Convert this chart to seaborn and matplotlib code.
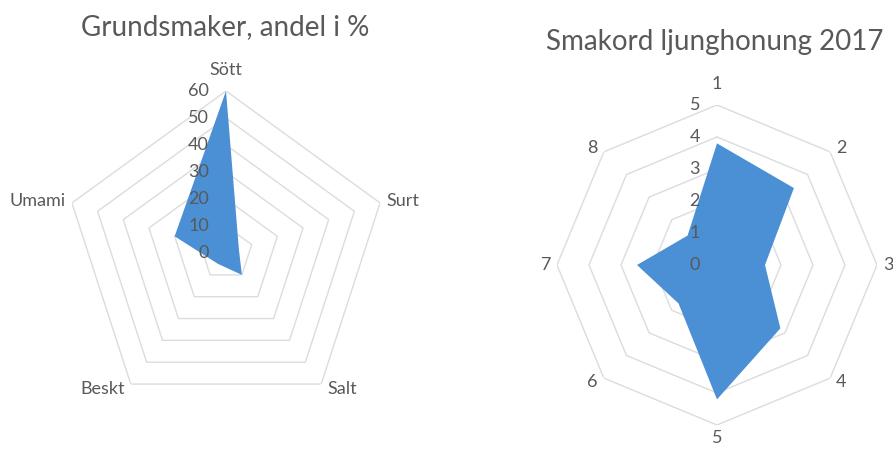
import numpy as np
import seaborn as sns
import matplotlib
matplotlib.use("Agg")
import matplotlib.pyplot as plt

# left radar: basic tastes, share in %
taste_labels = ["Sött", "Surt", "Salt", "Beskt", "Umami"]
taste_values = [60, 5, 10, 5, 20]
taste_ticks = [0, 10, 20, 30, 40, 50, 60]

# right radar: flavour notes heather honey 2017
note_labels = ["1", "2", "3", "4", "5", "6", "7", "8"]
note_values = [3.8, 3.4, 1.5, 2.8, 4.2, 1.7, 2.5, 1.3]
note_ticks = [0, 1, 2, 3, 4, 5]

sns.set_style("white")
plt.rcParams['font.family'] = ['Lato', 'DejaVu Sans']

fill_col = "#4b8fd5"
grid_col = "#dcdcdc"
text_col = "#595959"


def radar(ax, labels, values, ticks, bottom_gap=21):
    n = len(labels)
    ang = np.linspace(0, 2 * np.pi, n, endpoint=False)
    ang_c = np.append(ang, ang[0])
    top = ticks[-1]
    ax.set_theta_zero_location("N")
    ax.set_theta_direction(-1)
    ax.set_ylim(0, top)
    ax.grid(False)
    ax.spines["polar"].set_visible(False)
    ax.set_xticks([])
    ax.set_yticks([])
    ax.patch.set_alpha(0)
    # polygon rings
    for t in ticks[1:]:
        ax.plot(ang_c, [t] * (n + 1), color=grid_col, lw=1, zorder=1)
    vals = np.append(values, values[0])
    ax.fill(ang_c, vals, color=fill_col, zorder=2, lw=0)
    # value axis labels
    for t in ticks:
        ax.annotate(str(t), xy=(0, t), xytext=(-17, 0), textcoords="offset pixels",
                    ha="right", va="center", fontsize=13, color=text_col, zorder=3)
    # category labels, anchored just outside the outer ring like Excel
    for a, lab in zip(ang, labels):
        s, c = np.sin(a), np.cos(a)
        if abs(s) < 0.01:
            gap = 21 if c > 0 else bottom_gap
            ha, off = "center", (0, gap * np.sign(c))
        else:
            ha, off = ("left" if s > 0 else "right"), (6 * np.sign(s), 6 * c)
        ax.annotate(lab, xy=(a, top), xytext=off, textcoords="offset pixels",
                    ha=ha, va="center", fontsize=13, color=text_col,
                    annotation_clip=False)


W, H = 893, 449
fig = plt.figure(figsize=(W / 100, H / 100), dpi=100)


def px_axes(cx, cy, r):
    return fig.add_axes([(cx - r) / W, (H - cy - r) / H, 2 * r / W, 2 * r / H],
                        projection="polar")


ax1 = px_axes(226, 253, 162)
radar(ax1, taste_labels, taste_values, taste_ticks)

ax2 = px_axes(717, 265, 160)
radar(ax2, note_labels, note_values, note_ticks, bottom_gap=13)

fig.text(225 / W, 1 - 27 / H, "Grundsmaker, andel i %", ha="center", va="center",
         fontsize=20, color=text_col)
fig.text(715 / W, 1 - 42 / H, "Smakord ljunghonung 2017", ha="center", va="center",
         fontsize=20, color=text_col)

fig.savefig("out.png", dpi=100, facecolor="white")
